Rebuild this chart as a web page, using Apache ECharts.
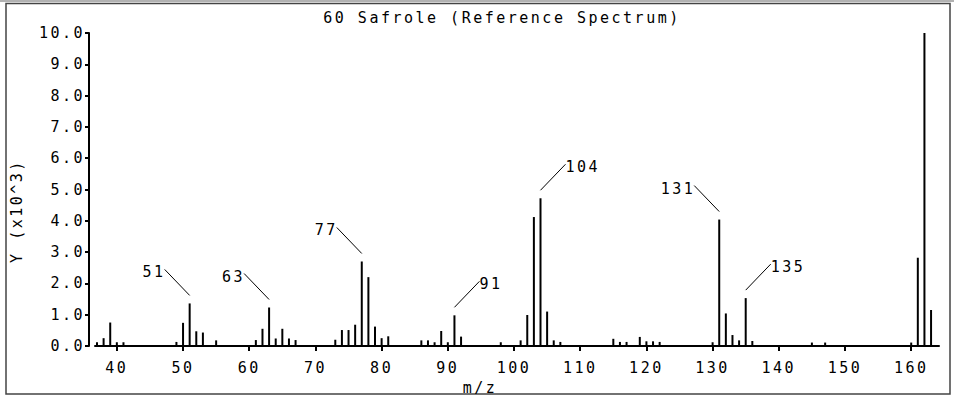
<!DOCTYPE html>
<html>
<head>
<meta charset="utf-8">
<script src="https://cdn.jsdelivr.net/npm/echarts@6/dist/echarts.min.js"></script>
<style>
  html, body { margin: 0; padding: 0; background: #fff; }
  #main { width: 954px; height: 396px; }
  /* pixel font of the original is wide, so space the letters out */
  #main text { letter-spacing: 2.5px; }
</style>
</head>
<body>
<div id="main"></div>
<script>
// m/z of every peak
var mz = [37, 38, 39, 40, 41, 49, 50, 51, 52, 53, 55,
  61, 62, 63, 64, 65, 66, 67,
  73, 74, 75, 76, 77, 78, 79, 80, 81,
  86, 87, 88, 89, 90, 91, 92,
  98, 101, 102, 103, 104, 105, 106, 107,
  115, 116, 117, 119, 120, 121, 122,
  130, 131, 132, 133, 134, 135, 136,
  145, 147, 160, 161, 162, 163];
// abundance (x10^3)
var abundance = [0.12, 0.25, 0.75, 0.12, 0.12, 0.13, 0.74, 1.36, 0.47, 0.43, 0.18,
  0.19, 0.55, 1.23, 0.24, 0.55, 0.24, 0.19,
  0.2, 0.51, 0.51, 0.68, 2.7, 2.2, 0.62, 0.25, 0.31,
  0.18, 0.18, 0.12, 0.48, 0.12, 0.98, 0.3,
  0.12, 0.18, 0.99, 4.12, 4.72, 1.1, 0.18, 0.13,
  0.23, 0.13, 0.13, 0.29, 0.15, 0.15, 0.13,
  0.12, 4.04, 1.04, 0.35, 0.18, 1.53, 0.16,
  0.11, 0.11, 0.11, 2.82, 10.0, 1.15];
// labelled peaks and which side the tag goes (-1 left, 1 right)
var labelMz = [51, 63, 77, 91, 104, 131, 135];
var labelSide = [-1, -1, -1, 1, 1, -1, 1];
var xTicks = [40, 50, 60, 70, 80, 90, 100, 110, 120, 130, 140, 150, 160];

var FONT = '15px "DejaVu Sans Mono"';

var barData = mz.map(function (m, i) { return [m, abundance[i]]; });
var tagData = labelMz.map(function (m, i) {
  return [m, abundance[mz.indexOf(m)], labelSide[i]];
});

//峰标注: 斜线 + 数字
function renderTag(params, api) {
  var p = api.coord([api.value(0), api.value(1)]);
  var side = api.value(2);
  var x0 = p[0], y0 = p[1] - 8;
  var x1 = x0 + side * 25, y1 = y0 - 26;
  return {
    type: 'group',
    children: [{
      type: 'line',
      shape: { x1: x0, y1: y0, x2: x1, y2: y1 },
      style: { stroke: '#000', lineWidth: 1 }
    }, {
      type: 'text',
      style: {
        text: String(api.value(0)),
        x: x1 + (side < 0 ? 1 : 0), y: y1 + 3,
        align: side < 0 ? 'right' : 'left',
        verticalAlign: 'middle',
        font: FONT, fill: '#000'
      }
    }]
  };
}

var myChart = echarts.init(document.getElementById('main'), null, { renderer: 'svg' });
var option = {
  animation: false,
  backgroundColor: '#fff',
  textStyle: { fontFamily: 'DejaVu Sans Mono', fontSize: 15, color: '#000' },
  grid: { left: 95, right: 15, top: 33, bottom: 50 },
  graphic: [
    { type: 'line', shape: { x1: 0, y1: 1, x2: 954, y2: 1 }, style: { stroke: '#999', lineWidth: 1.5 } },
    { type: 'rect', shape: { x: 6, y: 3.5, width: 944, height: 390.5 }, style: { fill: 'none', stroke: '#444', lineWidth: 1.5 } },
    { type: 'text', x: 502, y: 18, style: { text: '60 Safrole (Reference Spectrum)', font: FONT, fill: '#000', align: 'center', verticalAlign: 'middle' } },
    { type: 'text', x: 17, y: 211, rotation: Math.PI / 2, style: { text: 'Y (x10^3)', font: FONT, fill: '#000', align: 'center', verticalAlign: 'middle' } },
    { type: 'text', x: 480, y: 388, style: { text: 'm/z', font: FONT, fill: '#000', align: 'center', verticalAlign: 'middle' } }
  ],
  xAxis: {
    type: 'value',
    min: 36.7,
    max: 164.2,
    offset: 5,
    splitLine: { show: false },
    axisLine: { lineStyle: { color: '#000', width: 2 } },
    axisTick: { customValues: xTicks, length: 5, lineStyle: { color: '#000', width: 2 } },
    axisLabel: { customValues: xTicks, margin: 9, color: '#000', fontFamily: 'DejaVu Sans Mono', fontSize: 15 }
  },
  yAxis: {
    type: 'value',
    min: 0,
    max: 10,
    interval: 1,
    offset: 6,
    splitLine: { show: false },
    axisLine: { show: true, lineStyle: { color: '#000', width: 2 } },
    axisTick: { show: true, length: 4, lineStyle: { color: '#000', width: 2 } },
    axisLabel: {
      margin: 4, color: '#000', fontFamily: 'DejaVu Sans Mono', fontSize: 15,
      formatter: function (v) { return v.toFixed(1); }
    }
  },
  series: [{
    name: 'spectrum',
    type: 'bar',
    barWidth: 2,
    itemStyle: { color: '#000' },
    data: barData
  }, {
    name: 'tags',
    type: 'custom',
    renderItem: renderTag,
    clip: false,
    data: tagData
  }]
};
myChart.setOption(option);
</script>
</body>
</html>
